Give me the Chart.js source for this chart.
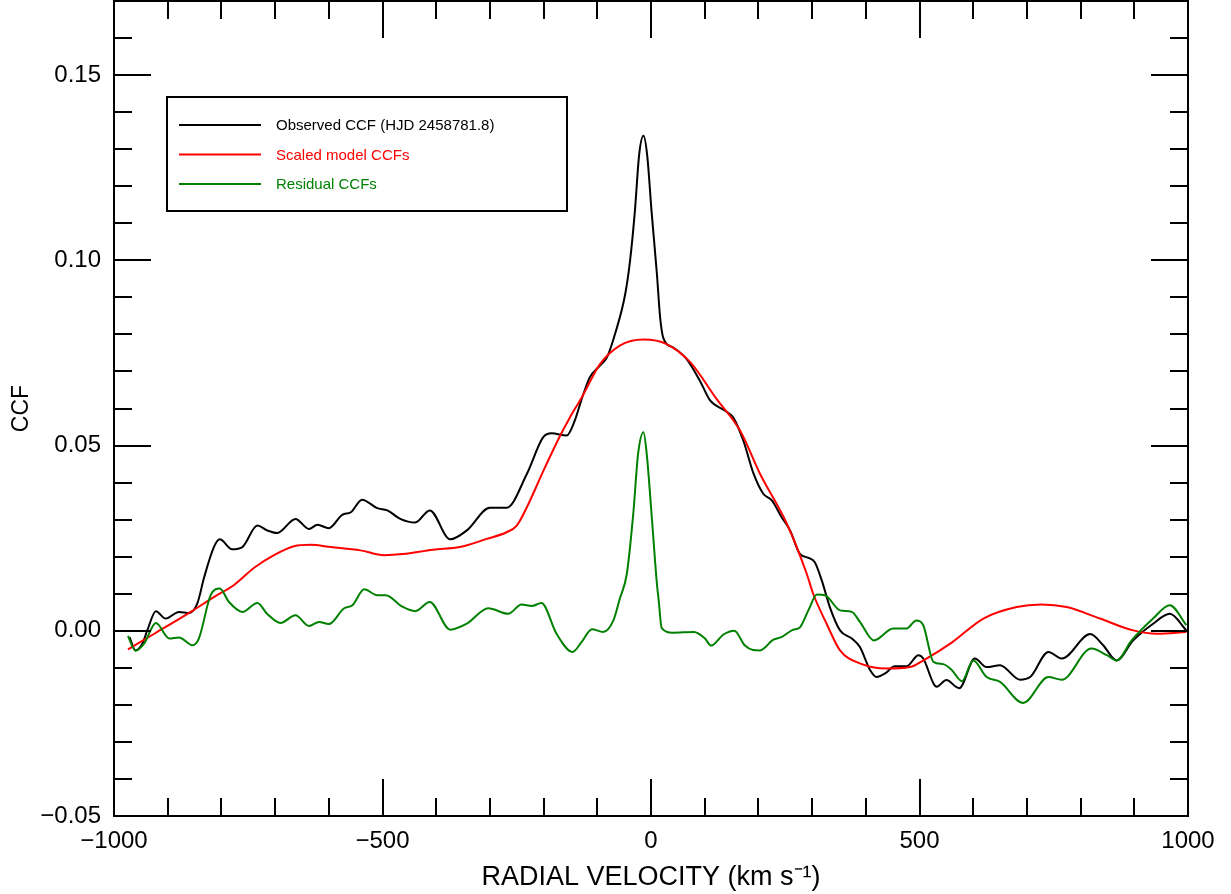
<!DOCTYPE html>
<html>
<head>
<meta charset="utf-8">
<script src="https://cdn.jsdelivr.net/npm/chart.js@4.4.1/dist/chart.umd.min.js"></script>
<style>
  html, body { margin: 0; padding: 0; background: #fff; }
  #wrap { width: 1231px; height: 894px; }
</style>
</head>
<body>
<div id="wrap"><canvas id="ccf"></canvas></div>
<script>
// Observed CCF (black)
const obsVel = [-971, -960, -947, -938, -922, -904, -879, -860, -845, -832, -814, -803, -780, -761, -733, -715, -696, -662, -637, -621, -600, -575, -559, -538, -510, -491, -467, -439, -412, -374, -343, -300, -269, -231, -201, -185, -157, -142, -129, -114, -95, -82, -67, -48, -39, -30, -22, -14, -7, 1, 11, 17, 23, 41, 66, 91, 110, 138, 153, 172, 191, 209, 225, 243, 259, 277, 293, 305, 318, 333, 352, 374, 389, 408, 420, 436, 454, 476, 498, 507, 526, 532, 550, 574, 603, 625, 650, 687, 706, 740, 765, 818, 842, 867, 898, 935, 966, 997];
const obsCcf = [-0.0017, -0.0053, -0.0034, 0.0001, 0.0053, 0.0033, 0.0051, 0.0048, 0.0073, 0.0145, 0.0226, 0.0247, 0.0220, 0.0226, 0.0284, 0.0271, 0.0264, 0.0302, 0.0275, 0.0286, 0.0277, 0.0313, 0.0320, 0.0354, 0.0331, 0.0325, 0.0302, 0.0292, 0.0325, 0.0247, 0.0271, 0.0332, 0.0332, 0.0424, 0.0522, 0.0533, 0.0527, 0.0567, 0.0626, 0.0684, 0.0716, 0.0738, 0.0801, 0.0909, 0.0999, 0.1133, 0.1286, 0.1336, 0.1282, 0.1133, 0.0963, 0.0846, 0.0790, 0.0765, 0.0734, 0.0675, 0.0622, 0.0594, 0.0576, 0.0513, 0.0424, 0.0370, 0.0352, 0.0307, 0.0271, 0.0208, 0.0197, 0.0185, 0.0136, 0.0064, 0.0001, -0.0021, -0.0044, -0.0106, -0.0125, -0.0115, -0.0096, -0.0096, -0.0066, -0.0075, -0.0142, -0.0151, -0.0133, -0.0155, -0.0075, -0.0098, -0.0093, -0.0132, -0.0125, -0.0057, -0.0075, -0.0009, -0.0039, -0.0080, -0.0026, 0.0019, 0.0046, 0.0001];

// Scaled model CCFs (red)
const modelVel = [-974, -925, -857, -814, -777, -739, -702, -665, -634, -596, -541, -497, -462, -406, -356, -306, -269, -250, -231, -200, -169, -151, -129, -95, -58, -14, 29, 73, 122, 166, 203, 253, 290, 302, 327, 352, 389, 439, 482, 513, 560, 619, 681, 727, 774, 836, 898, 942, 997];
const modelCcf = [-0.0050, -0.0008, 0.0051, 0.0091, 0.0123, 0.0170, 0.0204, 0.0228, 0.0232, 0.0226, 0.0217, 0.0204, 0.0207, 0.0219, 0.0226, 0.0248, 0.0266, 0.0284, 0.0334, 0.0433, 0.0527, 0.0576, 0.0630, 0.0720, 0.0770, 0.0786, 0.0774, 0.0725, 0.0626, 0.0540, 0.0424, 0.0289, 0.0154, 0.0100, 0.0019, -0.0053, -0.0088, -0.0102, -0.0098, -0.0075, -0.0032, 0.0033, 0.0064, 0.0071, 0.0064, 0.0033, 0.0001, -0.0008, -0.0003];

// Residual CCFs (green)
const residVel = [-974, -960, -944, -922, -897, -879, -854, -842, -820, -803, -786, -761, -733, -715, -690, -662, -637, -618, -600, -572, -556, -534, -510, -494, -464, -439, -412, -374, -343, -303, -266, -241, -222, -204, -176, -146, -129, -110, -89, -70, -58, -45, -33, -24, -14, -8, 1, 11, 14, 20, 40, 80, 100, 112, 135, 155, 175, 190, 203, 228, 243, 265, 277, 293, 309, 324, 352, 374, 389, 415, 451, 476, 494, 507, 526, 544, 560, 579, 600, 625, 650, 693, 740, 765, 820, 849, 867, 895, 935, 966, 997];
const residCcf = [-0.0014, -0.0054, -0.0035, 0.0021, -0.0021, -0.0018, -0.0039, -0.0021, 0.0096, 0.0114, 0.0078, 0.0051, 0.0075, 0.0046, 0.0021, 0.0042, 0.0013, 0.0024, 0.0018, 0.0060, 0.0069, 0.0112, 0.0096, 0.0096, 0.0066, 0.0053, 0.0078, 0.0003, 0.0019, 0.0061, 0.0046, 0.0071, 0.0067, 0.0075, -0.0008, -0.0057, -0.0030, 0.0004, -0.0003, 0.0028, 0.0087, 0.0154, 0.0316, 0.0478, 0.0536, 0.0478, 0.0316, 0.0127, 0.0087, 0.0007, -0.0005, -0.0003, -0.0020, -0.0040, -0.0010, 0.0000, -0.0040, -0.0052, -0.0053, -0.0024, -0.0017, 0.0003, 0.0009, 0.0055, 0.0098, 0.0096, 0.0055, 0.0051, 0.0024, -0.0026, 0.0006, 0.0006, 0.0028, 0.0015, -0.0084, -0.0090, -0.0106, -0.0136, -0.0080, -0.0125, -0.0138, -0.0195, -0.0125, -0.0132, -0.0048, -0.0066, -0.0080, -0.0026, 0.0033, 0.0069, 0.0015];

const legendLabels = ['Observed CCF (HJD 2458781.8)', 'Scaled model CCFs', 'Residual CCFs'];
const xTickLabels = [-1000, -500, 0, 500, 1000];
const yTickLabels = [-0.05, 0.00, 0.05, 0.10, 0.15];

const FONT = '"Liberation Sans", Arial, Helvetica, sans-serif';
const pts = (xs, ys) => xs.map((v, i) => ({ x: v, y: ys[i] }));
const minus = s => s.replace('-', '\u2212');

// frame with inward major/minor ticks on all four sides
const framePlugin = {
  id: 'frame',
  afterDraw(chart) {
    const { ctx, chartArea: { left, right, top, bottom }, scales: { x, y } } = chart;
    ctx.save();
    ctx.strokeStyle = '#000';
    ctx.lineWidth = 2;
    ctx.strokeRect(left, top, right - left, bottom - top);
    ctx.beginPath();
    for (let k = -10; k <= 10; k++) {
      const px = Math.round(x.getPixelForValue(k * 100));
      const len = k % 5 === 0 ? 37 : 18;
      ctx.moveTo(px, bottom); ctx.lineTo(px, bottom - len);
      ctx.moveTo(px, top); ctx.lineTo(px, top + len);
    }
    for (let k = -5; k <= 17; k++) {
      const py = Math.round(y.getPixelForValue(k / 100));
      const len = k % 5 === 0 ? 37 : 18;
      ctx.moveTo(left, py); ctx.lineTo(left + len, py);
      ctx.moveTo(right, py); ctx.lineTo(right - len, py);
    }
    ctx.stroke();
    ctx.restore();
  }
};

// boxed legend in the upper left of the plot
const legendPlugin = {
  id: 'boxLegend',
  afterDraw(chart) {
    const { ctx, chartArea: { left, top } } = chart;
    const bx = left + 53, by = top + 96, bw = 400, bh = 114;
    ctx.save();
    ctx.fillStyle = '#fff';
    ctx.fillRect(bx, by, bw, bh);
    ctx.strokeStyle = '#000';
    ctx.lineWidth = 2;
    ctx.strokeRect(bx, by, bw, bh);
    ctx.font = '15px ' + FONT;
    ctx.textBaseline = 'middle';
    chart.data.datasets.forEach((ds, i) => {
      const ly = by + 28 + i * 29.5;
      ctx.strokeStyle = ds.borderColor;
      ctx.beginPath();
      ctx.moveTo(bx + 12, ly); ctx.lineTo(bx + 94, ly);
      ctx.stroke();
      ctx.fillStyle = ds.borderColor;
      ctx.fillText(ds.label, bx + 109, ly + 1);
    });
    ctx.restore();
  }
};

new Chart(document.getElementById('ccf'), {
  type: 'line',
  data: {
    datasets: [
      { label: legendLabels[0], data: pts(obsVel, obsCcf), borderColor: '#000000', order: 2 },
      { label: legendLabels[1], data: pts(modelVel, modelCcf), borderColor: '#ff0000', order: 1 },
      { label: legendLabels[2], data: pts(residVel, residCcf), borderColor: '#008000', order: 0 }
    ]
  },
  options: {
    responsive: true,
    maintainAspectRatio: false,
    animation: false,
    layout: { padding: { left: 0, right: 43, top: 1, bottom: 0 } },
    elements: {
      line: { borderWidth: 2, cubicInterpolationMode: 'monotone' },
      point: { radius: 0 }
    },
    plugins: { legend: { display: false }, tooltip: { enabled: false } },
    scales: {
      x: {
        type: 'linear',
        min: -1000, max: 1000,
        grid: { display: false, drawTicks: false },
        border: { display: false },
        ticks: {
          stepSize: 500, padding: 11, color: '#000',
          font: { family: FONT, size: 24 },
          callback: v => xTickLabels.includes(v) ? minus(String(v)) : ''
        },
        title: {
          display: true, text: 'RADIAL VELOCITY (km s\u207B\u00B9)', color: '#000',
          font: { family: FONT, size: 27 }, padding: { top: 0, bottom: 0 }
        },
        afterFit: s => { s.height = 78; s.paddingLeft = 0; s.paddingRight = 0; }
      },
      y: {
        min: -0.05, max: 0.17,
        grid: { display: false, drawTicks: false },
        border: { display: false },
        ticks: {
          stepSize: 0.01, autoSkip: false, padding: 13, color: '#000',
          font: { family: FONT, size: 24 },
          callback: v => {
            const k = Math.round(v * 100);
            return yTickLabels.some(t => Math.round(t * 100) === k) ? minus((k / 100).toFixed(2)) : '';
          }
        },
        title: {
          display: true, text: 'CCF', color: '#000',
          font: { family: FONT, size: 23 }, padding: { top: 8, bottom: 0 }
        },
        afterFit: s => { s.width = 114; s.paddingTop = 0; s.paddingBottom = 0; }
      }
    }
  },
  plugins: [framePlugin, legendPlugin]
});
</script>
</body>
</html>
